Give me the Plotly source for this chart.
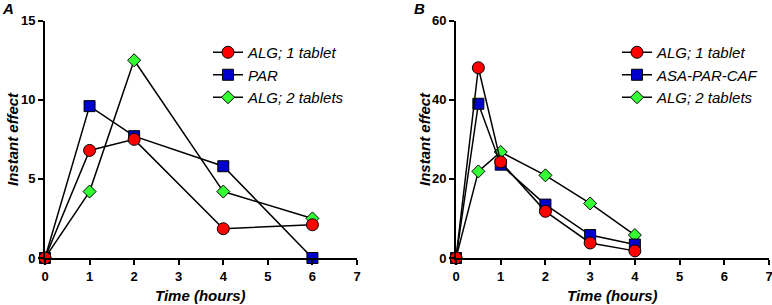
import plotly.graph_objects as go

# Panel A data
time_a = [0, 1, 2, 4, 6]
alg1_a = [0, 6.8, 7.5, 1.85, 2.1]
par_a = [0, 9.6, 7.7, 5.8, 0]
alg2_a = [0, 4.2, 12.5, 4.2, 2.5]

# Panel B data
time_b = [0, 0.5, 1, 2, 3, 4]
alg1_b = [0, 48.1, 24.3, 11.8, 3.8, 1.8]
apc_b = [0, 39.0, 23.6, 13.5, 5.8, 3.4]
alg2_b = [0, 21.9, 26.8, 20.9, 13.8, 5.8]

x_ticks = [0, 1, 2, 3, 4, 5, 6, 7]
y_ticks_a = [0, 5, 10, 15]
y_ticks_b = [0, 20, 40, 60]

FONT = "Liberation Sans, Arial, sans-serif"

def style(color, symbol, size):
    return dict(color=color, symbol=symbol, size=size, line=dict(color="black", width=1))

series_a = [
    ("ALG; 1 tablet", alg1_a, "#ff0000", "circle", 12),
    ("PAR", par_a, "#0000cc", "square", 11),
    ("ALG; 2 tablets", alg2_a, "#33ff33", "diamond", 10),
]
series_b = [
    ("ALG; 1 tablet", alg1_b, "#ff0000", "circle", 12),
    ("ASA-PAR-CAF", apc_b, "#0000cc", "square", 11),
    ("ALG; 2 tablets", alg2_b, "#33ff33", "diamond", 10),
]

fig = go.Figure()
# draw in reverse so the red series sits on top; legendrank keeps legend order
for rank, (name, ys, c, s, sz) in reversed(list(enumerate(series_a))):
    fig.add_trace(go.Scatter(x=time_a, y=ys, name=name, mode="lines+markers",
                             line=dict(color="black", width=1.5), marker=style(c, s, sz),
                             xaxis="x", yaxis="y", legend="legend", cliponaxis=False,
                             legendrank=rank + 1))
for rank, (name, ys, c, s, sz) in reversed(list(enumerate(series_b))):
    fig.add_trace(go.Scatter(x=time_b, y=ys, name=name, mode="lines+markers",
                             line=dict(color="black", width=1.5), marker=style(c, s, sz),
                             xaxis="x2", yaxis="y2", legend="legend2", cliponaxis=False,
                             legendrank=rank + 1))

W, H = 772, 305
ydom = [1 - 258 / H, 1 - 20.7 / H]

def xax(dom, anchor):
    return dict(domain=dom, range=[0, 7], tickvals=x_ticks, showline=True, linecolor="black",
                linewidth=2, ticks="outside", ticklen=5, tickwidth=2, tickcolor="black",
                showgrid=False, zeroline=False, anchor=anchor, automargin=False,
                ticklabeloverflow="allow",
                tickfont=dict(family=FONT, size=13, color="black", weight="bold"))

def yax(rng, tv, anchor):
    return dict(domain=ydom, range=rng, tickvals=tv, showline=True, linecolor="black",
                linewidth=2, ticks="outside", ticklen=5, tickwidth=2, tickcolor="black",
                showgrid=False, zeroline=False, anchor=anchor, automargin=False,
                tickfont=dict(family=FONT, size=13, color="black", weight="bold"))

legfont = dict(family=FONT, size=15, color="black", style="italic")

fig.update_layout(
    width=W, height=H, margin=dict(l=0, r=0, t=0, b=0, autoexpand=False),
    paper_bgcolor="white", plot_bgcolor="white",
    xaxis=xax([45 / W, 357 / W], "y"),
    yaxis=yax([0, 15], y_ticks_a, "x"),
    xaxis2=xax([456 / W, 769 / W], "y2"),
    yaxis2=yax([0, 60], y_ticks_b, "x2"),
    legend=dict(x=208 / W, y=1 - 36 / H, xanchor="left", yanchor="top", font=legfont,
                bgcolor="rgba(0,0,0,0)", itemwidth=30, tracegroupgap=0, traceorder="normal"),
    legend2=dict(x=617 / W, y=1 - 36 / H, xanchor="left", yanchor="top", font=legfont,
                 bgcolor="rgba(0,0,0,0)", itemwidth=30, tracegroupgap=0, traceorder="normal"),
    showlegend=True,
)

ann_font = dict(family=FONT, size=15, color="black", weight="bold", style="italic")
anns = [
    dict(text="Time (hours)", x=201 / W, y=1 - 295 / H),
    dict(text="Time (hours)", x=(456 + 769) / 2 / W, y=1 - 295 / H),
    dict(text="Instant effect", x=12 / W, y=1 - 139 / H, textangle=-90),
    dict(text="Instant effect", x=(386 + 38) / W, y=1 - 139 / H, textangle=-90),
    dict(text="A", x=8 / W, y=1 - 8 / H, font=dict(family=FONT, size=15, color="black", weight="bold", style="italic")),
    dict(text="B", x=(386 + 33) / W, y=1 - 8 / H, font=dict(family=FONT, size=15, color="black", weight="bold", style="italic")),
]
for a in anns:
    a.setdefault("font", ann_font)
    fig.add_annotation(xref="paper", yref="paper", showarrow=False, xanchor="center", yanchor="middle", **a)

fig.write_html("out.html", config={"displayModeBar": False},
               post_script="document.body.style.margin='0px';")
